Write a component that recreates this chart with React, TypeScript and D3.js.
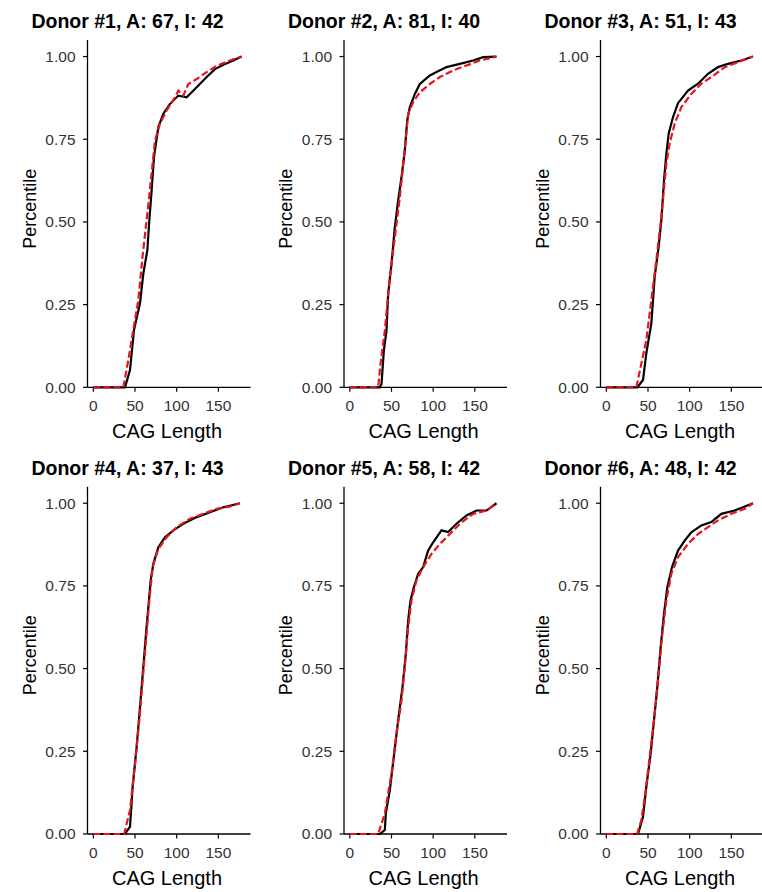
import * as d3 from 'd3';
import React from 'react';

// CAG length (x) vs cumulative percentile (y)
const titles = [
    'Donor #1, A: 67, I: 42',
    'Donor #2, A: 81, I: 40',
    'Donor #3, A: 51, I: 43',
    'Donor #4, A: 37, I: 43',
    'Donor #5, A: 58, I: 42',
    'Donor #6, A: 48, I: 42',
];

const d1Black = [[0, 0], [38, 0], [44, 0.052], [48.8, 0.173], [56, 0.254], [60, 0.344], [64.8, 0.414], [67.2, 0.505], [70, 0.596], [72.8, 0.696], [78, 0.787], [84, 0.827], [92, 0.857], [102, 0.882], [112, 0.877], [124, 0.907], [136, 0.938], [146, 0.962], [156, 0.975], [168, 0.988], [178, 1]];
const d1Red = [[0, 0], [36, 0], [42, 0.083], [54, 0.264], [59, 0.394], [67, 0.575], [74, 0.746], [80, 0.797], [88, 0.837], [98, 0.877], [102, 0.897], [108, 0.882], [114, 0.917], [124, 0.932], [136, 0.953], [148, 0.972], [164, 0.988], [178, 1]];

const d2Black = [[0, 0], [36, 0], [38, 0.01], [40.8, 0.111], [44, 0.171], [46, 0.282], [50, 0.373], [54, 0.484], [58, 0.565], [62, 0.635], [66, 0.716], [68.8, 0.806], [72, 0.847], [78, 0.887], [84, 0.917], [96, 0.943], [104, 0.953], [116, 0.968], [132, 0.978], [148, 0.988], [160, 0.998], [176, 1]];
const d2Red = [[0, 0], [34, 0], [36.8, 0.071], [42, 0.171], [48, 0.333], [54, 0.454], [60, 0.575], [67, 0.746], [70, 0.827], [76, 0.862], [84, 0.892], [96, 0.917], [108, 0.938], [124, 0.958], [140, 0.973], [156, 0.988], [176, 1]];

const d3Black = [[0, 0], [37.2, 0], [44, 0.022], [48, 0.103], [54, 0.193], [58, 0.334], [62.8, 0.425], [66, 0.505], [69.2, 0.626], [72, 0.706], [74.8, 0.767], [80, 0.817], [86, 0.859], [98, 0.897], [110, 0.918], [122, 0.948], [134, 0.968], [146, 0.978], [162, 0.988], [176, 1]];
const d3Red = [[0, 0], [36, 0], [41.2, 0.062], [48, 0.143], [54, 0.264], [60, 0.384], [66, 0.515], [72, 0.676], [76, 0.737], [82, 0.797], [90, 0.847], [102, 0.887], [114, 0.918], [126, 0.938], [142, 0.968], [158, 0.983], [176, 1]];

const d4Black = [[0, 0], [38, 0], [44, 0.022], [47.2, 0.143], [52, 0.264], [56, 0.384], [60, 0.505], [63.2, 0.606], [66, 0.686], [68.8, 0.767], [72, 0.817], [78, 0.867], [86, 0.897], [96, 0.918], [108, 0.938], [124, 0.958], [140, 0.973], [156, 0.988], [176, 1]];
const d4Red = [[0, 0], [37, 0], [44, 0.072], [50, 0.213], [55.2, 0.344], [59.2, 0.465], [63.2, 0.585], [67.2, 0.706], [71.2, 0.807], [78, 0.862], [88, 0.897], [100, 0.928], [116, 0.953], [132, 0.968], [148, 0.983], [164, 0.99], [176, 1]];

const d5Black = [[0, 0], [36, 0], [42, 0.012], [43.2, 0.062], [48, 0.133], [52.8, 0.233], [58, 0.344], [63.2, 0.445], [67.2, 0.545], [70, 0.646], [72.8, 0.706], [76.8, 0.746], [82, 0.787], [88, 0.807], [94, 0.857], [100, 0.882], [110, 0.918], [118, 0.913], [128, 0.938], [140, 0.963], [152, 0.978], [164, 0.978], [176, 1]];
const d5Red = [[0, 0], [34, 0], [42, 0.062], [50, 0.183], [56, 0.304], [62, 0.404], [66, 0.505], [70, 0.626], [74, 0.706], [80, 0.767], [88, 0.807], [98, 0.847], [108, 0.877], [120, 0.907], [132, 0.938], [148, 0.968], [164, 0.978], [176, 1]];

const d6Black = [[0, 0], [38, 0], [44, 0.052], [48, 0.143], [53.2, 0.243], [57.2, 0.344], [61.2, 0.445], [65.2, 0.565], [69.2, 0.666], [73.2, 0.746], [78.8, 0.807], [86, 0.857], [94, 0.887], [102, 0.912], [114, 0.933], [126, 0.943], [138, 0.968], [154, 0.978], [176, 1]];
const d6Red = [[0, 0], [37, 0], [42, 0.042], [46.8, 0.123], [52, 0.233], [57.2, 0.344], [62, 0.465], [66.8, 0.596], [72, 0.706], [78, 0.787], [86, 0.837], [98, 0.877], [110, 0.907], [122, 0.928], [134, 0.948], [150, 0.968], [166, 0.983], [176, 1]];

const blackSeries = [d1Black, d2Black, d3Black, d4Black, d5Black, d6Black];
const redSeries = [d1Red, d2Red, d3Red, d4Red, d5Red, d6Red];

const xTicks = [0, 50, 100, 150];
const yTicks = [0, 0.25, 0.5, 0.75, 1];

const W = 762;
const H = 892;
const font = '"Liberation Sans", Arial, sans-serif';

function Panel({ i }) {
    const col = i % 3;
    const row = Math.floor(i / 3);
    const left = 87.5 + col * 256.5;
    const top = 40 + row * 446.7;
    const pw = 163;
    const ph = 347.3;

    const x = d3.scaleLinear().domain([-7, 188.6]).range([0, pw]);
    const y = d3.scaleLinear().domain([0, 1.05]).range([ph, 0]);
    const line = d3.line().x(d => x(d[0])).y(d => y(d[1]));

    return (
        <g transform={`translate(${left},${top})`}>
            <text x={40} y={-12} textAnchor="middle" fontSize={19.5} fontWeight="bold" fill="#000">{titles[i]}</text>
            {/* y axis */}
            <line x1={0} x2={0} y1={0} y2={ph} stroke="#000" strokeWidth={1.3} />
            {yTicks.map(t => (
                <g key={t} transform={`translate(0,${y(t)})`}>
                    <line x1={-4.5} x2={0} stroke="#000" strokeWidth={1.2} />
                    <text x={-12} dy="0.35em" textAnchor="end" fontSize={15.5} fill="#333">{t.toFixed(2)}</text>
                </g>
            ))}
            {/* x axis */}
            <line x1={0} x2={pw} y1={ph} y2={ph} stroke="#000" strokeWidth={1.3} />
            {xTicks.map(t => (
                <g key={t} transform={`translate(${x(t)},${ph})`}>
                    <line y1={0} y2={4.5} stroke="#000" strokeWidth={1.2} />
                    <text y={23.5} textAnchor="middle" fontSize={15.5} fill="#333">{t}</text>
                </g>
            ))}
            <text x={pw / 2 - 2} y={ph + 51} textAnchor="middle" fontSize={20} fill="#000">CAG Length</text>
            <text transform={`translate(${-52},${ph / 2 - 5}) rotate(-90)`} textAnchor="middle" fontSize={18} fill="#000">Percentile</text>
            <path d={line(blackSeries[i])} fill="none" stroke="#000" strokeWidth={2.2} />
            <path d={line(redSeries[i])} fill="none" stroke="#e8141c" strokeWidth={2.2} strokeDasharray="7 3" />
        </g>
    );
}

export default function App() {
    return (
        <svg width={W} height={H} style={{ position: 'absolute', left: 0, top: 0, background: '#fff' }} fontFamily={font}>
            <rect width={W} height={H} fill="#fff" />
            {titles.map((_, i) => <Panel key={i} i={i} />)}
        </svg>
    );
}
